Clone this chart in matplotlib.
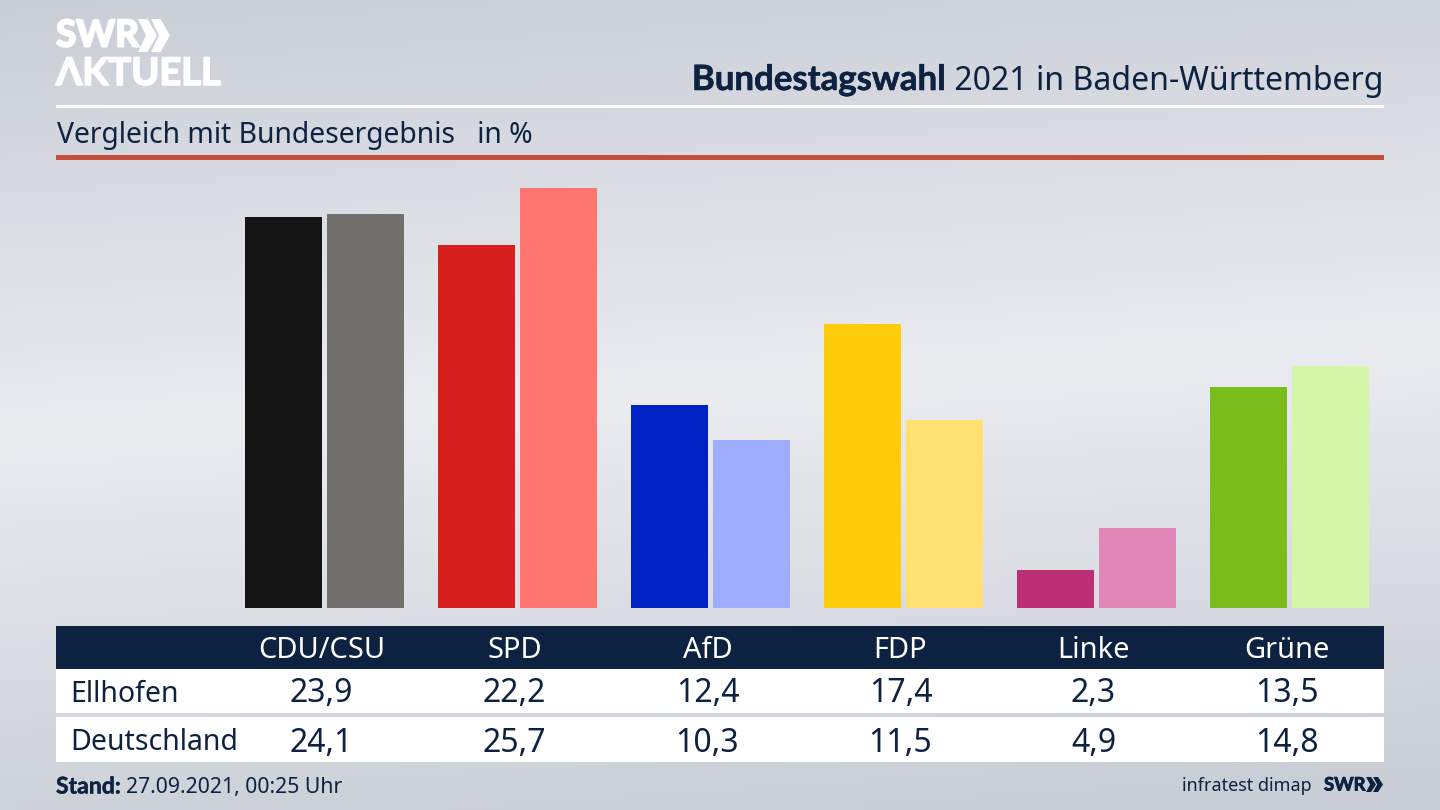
import numpy as np
import matplotlib
matplotlib.use("Agg")
import matplotlib.pyplot as plt
import matplotlib.patheffects as pe
from matplotlib.patches import Rectangle, Polygon

parties = ["CDU/CSU", "SPD", "AfD", "FDP", "Linke", "Grüne"]
ellhofen = [23.9, 22.2, 12.4, 17.4, 2.3, 13.5]
deutschland = [24.1, 25.7, 10.3, 11.5, 4.9, 14.8]
colors_dark = ["#141414", "#d7201d", "#0022c4", "#ffcc0a", "#bb2f77", "#79bc1c"]
colors_light = ["#706f6c", "#ff7570", "#9eadff", "#ffe071", "#df88b8", "#d4f6a8"]
rows = ["Ellhofen", "Deutschland"]

NAVY = "#0c2240"
plt.rcParams["font.family"] = ["Noto Sans", "DejaVu Sans"]
BOLD = ["Lato", "Liberation Sans", "DejaVu Sans"]

fig = plt.figure(figsize=(14.4, 8.1), dpi=100)

# full-figure axes in pixel coordinates for the furniture
bg = fig.add_axes([0, 0, 1, 1])
bg.set_xlim(0, 1440)
bg.set_ylim(810, 0)
bg.axis("off")

yy, xx = np.mgrid[0:1:81j, 0:1:144j]
shade = np.clip(1 - np.abs(yy - 0.48 + 0.12 * (xx - 0.5)) / 0.55, 0, 1)
top = np.array([0xc9, 0xcd, 0xd5]) / 255
mid = np.array([0xea, 0xec, 0xf0]) / 255
grad = top + (mid - top) * shade[..., None]
bg.imshow(grad, extent=[0, 1440, 810, 0], aspect="auto", zorder=0, interpolation="bilinear")


def px(size):
    return size * 0.72


def thick(width, color):
    return [pe.withStroke(linewidth=width, foreground=color)]


def chevrons(x, y, h, w, gap, color):
    for k in range(2):
        x0 = x + k * gap
        bg.add_patch(Polygon([(x0, y), (x0 + w * 0.5, y), (x0 + w, y + h / 2),
                              (x0 + w * 0.5, y + h), (x0, y + h), (x0 + w * 0.42, y + h / 2)],
                             closed=True, fc=color, ec="none", zorder=3))


# logo
bg.text(56, 36, "SWR", fontsize=px(37), fontweight="bold", color="white", va="center", ha="left",
        family=BOLD, path_effects=thick(1.5, "white"))
chevrons(138, 19, 33, 19, 13, "white")
bg.text(56, 74, "ΛKTUELL", fontsize=px(38), fontweight="bold", color="white", va="center", ha="left",
        family=BOLD, path_effects=thick(1.2, "white"))

# title
title = bg.text(1383, 81, " 2021 in Baden-Württemberg", fontsize=px(32), color=NAVY, ha="right", va="center")
fig.canvas.draw()
left = title.get_window_extent().x0
bg.text(left, 80, "Bundestagswahl", fontsize=px(34.8), fontweight="bold", color=NAVY, ha="right", va="center",
        family=BOLD, path_effects=thick(0.4, NAVY))

bg.add_patch(Rectangle((56, 104.5), 1328, 3, fc="white", ec="none", zorder=2))
bg.text(57, 135, "Vergleich mit Bundesergebnis   in %", fontsize=px(28.3), color=NAVY, ha="left", va="center")
bg.add_patch(Rectangle((56, 155), 1328, 5, fc="#c64f3c", ec="none", zorder=2))

# bars
bar_left, bar_right, bar_top, bar_base = 56, 1384, 165, 608
ax = fig.add_axes([bar_left / 1440, 1 - bar_base / 810, (bar_right - bar_left) / 1440, (bar_base - bar_top) / 810])
ax.patch.set_alpha(0)
ax.set_xlim((bar_left - 324.5) / 193, (bar_right - 324.5) / 193)
ax.set_ylim(0, (bar_base - bar_top) / 16.35)
ax.axis("off")
pos = np.arange(len(parties))
width = 77 / 193
ax.bar(pos - 41 / 193, ellhofen, width, color=colors_dark)
ax.bar(pos + 41 / 193, deutschland, width, color=colors_light)

# table
bg.add_patch(Rectangle((56, 626), 1328, 42.5, fc=NAVY, ec="none", zorder=2))
bg.add_patch(Rectangle((56, 668.5), 1328, 44.5, fc="white", ec="none", zorder=2))
bg.add_patch(Rectangle((56, 717), 1328, 45, fc="white", ec="none", zorder=2))

col_x = 321.5 + 193 * pos
for i, name in enumerate(parties):
    bg.text(col_x[i], 650, name, fontsize=px(29), color="white", ha="center", va="center", zorder=3)
    bg.text(col_x[i], 694, f"{ellhofen[i]:.1f}".replace(".", ","), fontsize=px(32), color=NAVY,
            ha="center", va="center", zorder=3)
    bg.text(col_x[i], 743, f"{deutschland[i]:.1f}".replace(".", ","), fontsize=px(32), color=NAVY,
            ha="center", va="center", zorder=3)
bg.text(70, 694, rows[0], fontsize=px(28.5), color=NAVY, ha="left", va="center", zorder=3)
bg.text(70, 742, rows[1], fontsize=px(28.5), color=NAVY, ha="left", va="center", zorder=3)

# footer
bg.text(56, 787, "Stand:", fontsize=px(23), fontweight="bold", color=NAVY, ha="left", va="center",
        family=BOLD, path_effects=thick(0.3, NAVY))
bg.text(126, 787, "27.09.2021, 00:25 Uhr", fontsize=px(21.2), color=NAVY, ha="left", va="center")
bg.text(1312, 786, "infratest dimap", fontsize=px(18), color=NAVY, ha="right", va="center")
bg.text(1324, 785, "SWR", fontsize=px(18.5), fontweight="bold", color=NAVY, ha="left", va="center",
        family=BOLD, path_effects=thick(0.6, NAVY))
chevrons(1366, 777, 15, 10, 7, NAVY)

fig.savefig("out.png", dpi=100)
